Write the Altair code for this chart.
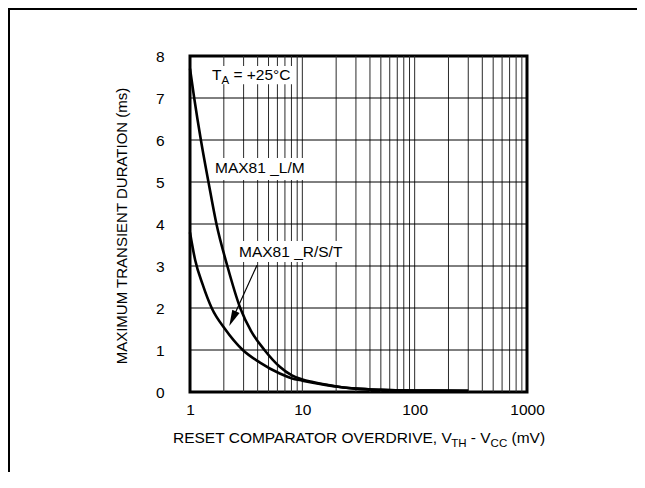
import altair as alt
import pandas as pd

# ---- data ----
lm_x = [1.0, 1.09, 1.25, 1.46, 1.72, 2.15, 2.8, 3.5, 4.6, 6.3, 8.0, 10.0, 12.4, 16.0, 21.6, 30.0, 50.0, 100.0, 300.0]
lm_y = [7.7, 7.0, 6.0, 5.0, 4.0, 3.0, 2.0, 1.45, 1.0, 0.6, 0.4, 0.3, 0.24, 0.18, 0.12, 0.08, 0.05, 0.035, 0.03]

rst_x = [1.0, 1.11, 1.3, 1.56, 2.05, 2.95, 4.2, 6.3, 8.0, 10.0, 12.4, 16.0, 21.6, 30.0, 50.0, 100.0, 300.0]
rst_y = [3.8, 3.15, 2.55, 2.0, 1.5, 1.0, 0.7, 0.44, 0.33, 0.27, 0.22, 0.17, 0.12, 0.08, 0.05, 0.035, 0.03]

x_ticks = [1, 10, 100, 1000]
y_ticks = [0, 1, 2, 3, 4, 5, 6, 7, 8]
x_grid = [k * 10 ** d for d in range(3) for k in range(1, 10)][1:]
y_grid = [1, 2, 3, 4, 5, 6, 7]

FONT = "Liberation Sans"
W, H = 337, 336
FS = 15.5
SP = 0.278 * FS  # width of a space

curves = pd.DataFrame(
    {"x": lm_x + rst_x, "y": lm_y + rst_y,
     "s": ["L/M"] * len(lm_x) + ["R/S/T"] * len(rst_x)}
)

xs = alt.Scale(type="log", domain=[1, 1000])
ys = alt.Scale(domain=[0, 8])

base_x = alt.X("x:Q", scale=xs,
               axis=alt.Axis(values=x_ticks, format="d", ticks=False, domain=False,
                             grid=False, labelPadding=10, labelFontSize=FS,
                             labelFlush=False, labelFont=FONT, labelColor="black",
                             title=None))
base_y = alt.Y("y:Q", scale=ys,
               axis=alt.Axis(values=y_ticks, ticks=False, domain=False, grid=False,
                             labelPadding=26, labelFontSize=FS, labelFont=FONT,
                             labelFlush=False, labelColor="black", title=None))

# outer border
border = alt.Chart(pd.DataFrame({"a": [0]})).mark_rect(
    fill=None, stroke="black", strokeWidth=2, clip=False
).encode(x=alt.value(-181), x2=alt.value(700), y=alt.value(-47), y2=alt.value(700))

vgrid = alt.Chart(pd.DataFrame({"x": x_grid})).mark_rule(
    color="#2a2a2a", strokeWidth=1
).encode(x=base_x)

hgrid = alt.Chart(pd.DataFrame({"y": y_grid})).mark_rule(
    color="black", strokeWidth=1
).encode(y=base_y)

# white boxes behind the labels
boxes = pd.DataFrame({
    "x": [1.417, 1.538, 2.567],
    "x2": [8.43, 10.56, 23.99],
    "y": [7.33, 5.05, 3.095],
    "y2": [7.76, 5.57, 3.595],
})
box_layer = alt.Chart(boxes).mark_rect(fill="white").encode(
    x=alt.X("x:Q", scale=xs), x2="x2:Q", y=alt.Y("y:Q", scale=ys), y2="y2:Q"
)

lines = alt.Chart(curves).mark_line(
    color="black", strokeWidth=2.6, interpolate="monotone"
).encode(x=base_x, y=base_y, detail="s:N")

# arrow to R/S/T curve
arrow_df = pd.DataFrame({"x": [3.95], "y": [3.02], "x2": [2.394], "y2": [1.745]})
arrow_line = alt.Chart(arrow_df).mark_rule(color="black", strokeWidth=1.2).encode(
    x=alt.X("x:Q", scale=xs), y=alt.Y("y:Q", scale=ys), x2="x2:Q", y2="y2:Q"
)
arrow_head = alt.Chart(arrow_df).mark_point(
    shape="M0,1L-0.5,-1L0.5,-1Z", filled=True, color="black", opacity=1,
    size=256, angle=24.6
).encode(x=alt.X("x2:Q", scale=xs), y=alt.Y("y2:Q", scale=ys))


def txt(x, y, s, size=FS, dx=0, dy=0):
    return alt.Chart(pd.DataFrame({"x": [x], "y": [y], "t": [s]})).mark_text(
        align="left", baseline="alphabetic", font=FONT, fontSize=size,
        color="black", dx=dx, dy=dy
    ).encode(x=alt.X("x:Q", scale=xs), y=alt.Y("y:Q", scale=ys), text="t:N")


sub = 11.5
labels = [
    txt(1.57, 7.43, "T"),
    txt(1.57, 7.43, "A", size=sub, dx=9.4, dy=4),
    txt(1.57, 7.43, "= +25°C", dx=9.4 + 0.667 * sub + SP),
    txt(1.67, 5.21, "MAX81 _L/M"),
    txt(2.73, 3.21, "MAX81 _R/S/T"),
]


def ptxt(x, y, s, size=FS, angle=0, align="left"):
    return alt.Chart(pd.DataFrame({"t": [s]})).mark_text(
        align=align, baseline="alphabetic", font=FONT, fontSize=size,
        color="black", angle=angle
    ).encode(x=alt.value(x), y=alt.value(y), text="t:N")


# x title with subscripts (plot-relative pixels)
x0, yb = -17, 51
w_main = 18.17 * FS - 3.5
w_th = 1.333 * sub
w_mid = 1.556 * FS
w_cc = 1.444 * sub
xtitle = [
    ptxt(x0, yb + H, "RESET COMPARATOR OVERDRIVE, V"),
    ptxt(x0 + w_main, yb + H + 4, "TH", size=sub),
    ptxt(x0 + w_main + w_th + SP, yb + H, "- V"),
    ptxt(x0 + w_main + w_th + w_mid, yb + H + 4, "CC", size=sub),
    ptxt(x0 + w_main + w_th + w_mid + w_cc + SP, yb + H, "(mV)"),
]

ytitle = alt.Chart(pd.DataFrame({"t": ["MAXIMUM TRANSIENT DURATION (ms)"]})).mark_text(
    align="center", baseline="middle", font=FONT, fontSize=15, color="black", angle=270
).encode(x=alt.value(-68), y=alt.value(170), text="t:N")

chart = alt.layer(
    border, vgrid, hgrid, box_layer, lines, arrow_line, arrow_head,
    *labels, *xtitle, ytitle
).properties(
    width=W, height=H,
    autosize=alt.AutoSizeParams(type="none"),
    padding={"left": 182, "top": 48, "right": 110, "bottom": 80},
    background="white",
).configure_view(stroke="black", strokeWidth=3)

chart.save("out.html", embed_options={"renderer": "svg", "actions": False})
